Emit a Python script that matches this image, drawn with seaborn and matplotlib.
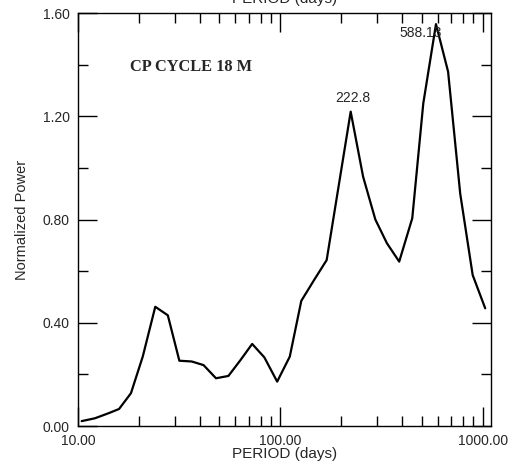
import numpy as np
import pandas as pd
import matplotlib
matplotlib.use("Agg")
import matplotlib.pyplot as plt
import seaborn as sns
from matplotlib.ticker import FixedLocator, NullFormatter

# periodogram
period = [10.43, 12.13, 14.1, 15.96, 18.27, 20.9, 24.1, 27.8, 31.7, 36.5, 41.75,
          48.1, 55.4, 63.5, 72.6, 83.4, 96.5, 111.4, 127.0, 147.0, 169.5, 222.8,
          256.6, 295.0, 336.6, 387.0, 449.0, 509.0, 588.13, 675.0, 775.0, 893.0, 1030.0]
power = [0.019, 0.030, 0.049, 0.066, 0.127, 0.269, 0.462, 0.429, 0.253, 0.250, 0.236,
         0.185, 0.194, 0.255, 0.318, 0.266, 0.172, 0.269, 0.485, 0.566, 0.643, 1.218,
         0.966, 0.800, 0.708, 0.637, 0.805, 1.250, 1.557, 1.373, 0.900, 0.585, 0.456]
peak_labels = ["222.8", "588.13"]
peak_periods = [222.8, 588.13]
peak_powers = [1.218, 1.557]

df = pd.DataFrame({"Period": period, "Power": power})

sns.set_style("ticks")
plt.rcParams["font.family"] = ["Liberation Sans", "DejaVu Sans"]

fig = plt.figure(figsize=(5.12, 4.66), dpi=100)
ax = fig.add_axes([0.1523, 0.0858, 0.8073, 0.8862])

sns.lineplot(data=df, x="Period", y="Power", color="black", linewidth=1.6, ax=ax)

ax.set_xscale("log")
ax.set_xlim(10, 1104)
ax.set_ylim(0, 1.6)

ax.xaxis.set_major_locator(FixedLocator([10, 100, 1000]))
ax.set_xticklabels(["10.00", "100.00", "1000.00"])
minors = [v * d for d in (10, 100) for v in range(2, 10)]
ax.xaxis.set_minor_locator(FixedLocator(minors))
ax.xaxis.set_minor_formatter(NullFormatter())

ax.set_yticks([0, 0.4, 0.8, 1.2, 1.6])
ax.set_yticklabels(["0.00", "0.40", "0.80", "1.20", "1.60"])
ax.yaxis.set_minor_locator(FixedLocator([0.2, 0.6, 1.0, 1.4]))

ax.tick_params(which="both", direction="in", top=True, right=True, labelsize=10,
               color="black", width=1)
ax.tick_params(axis="x", pad=6)
ax.tick_params(axis="y", pad=6)
ax.tick_params(which="major", length=14)
ax.tick_params(which="minor", length=7)
for s in ax.spines.values():
    s.set_linewidth(1.0)
    s.set_color("black")

ax.set_xlabel("PERIOD (days)", fontsize=11, labelpad=-1)
ax.set_ylabel("Normalized Power", fontsize=10.5, labelpad=10)

# top axis label, mostly cut off by the figure edge
fig.text(0.556, 1 - 3 / 466, "PERIOD (days)", ha="center", va="baseline", fontsize=11)

ax.text(18.0, 1.39, "CP CYCLE 18 M", fontsize=11.8, fontweight="bold",
        family=["Liberation Serif", "DejaVu Serif"], va="center")

ax.text(peak_periods[0] * 1.02, peak_powers[0] + 0.025, peak_labels[0], ha="center",
        va="bottom", fontsize=10)
ax.text(peak_periods[1] * 0.84, peak_powers[1] - 0.035, peak_labels[1], ha="center",
        va="center", fontsize=10)

fig.savefig("out.png", dpi=100)
